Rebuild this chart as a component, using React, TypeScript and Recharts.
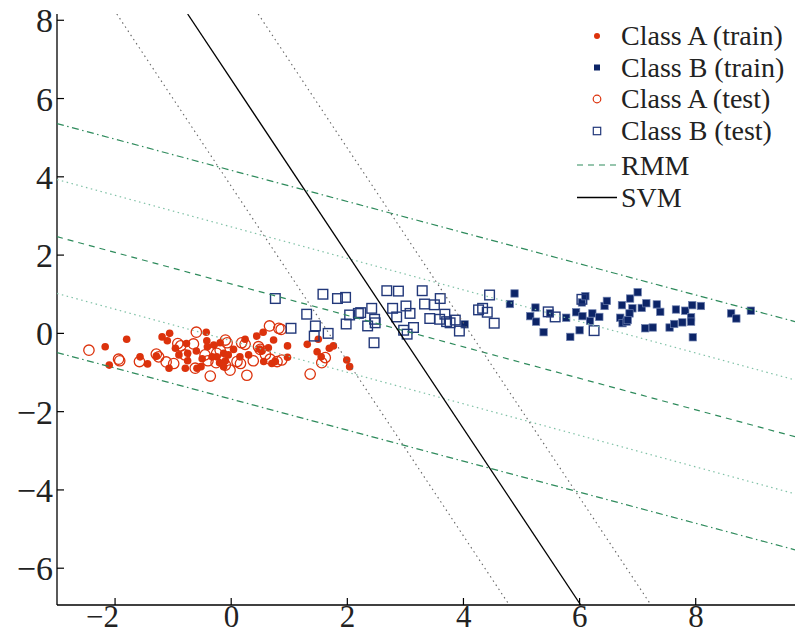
import React from 'react';
import { ScatterChart, Scatter, XAxis, YAxis, Legend } from 'recharts';

// points, [x, y]
const classATrain: [number, number][] = [
  [-2.17, -0.34], [-2.10, -0.81], [-1.80, -0.15], [-1.57, -0.60], [-1.44, -0.78],
  [-1.29, -0.58], [-1.19, -0.09], [-1.06, 0.00], [-1.10, -0.19], [-1.07, -0.89],
  [-0.96, -0.38], [-0.90, -0.55], [-0.77, -0.26], [-0.75, -0.51], [-0.75, -0.70],
  [-0.79, -0.89], [-0.60, -0.45], [-0.50, -0.65], [-0.43, 0.03], [-0.42, -0.19],
  [-0.59, -0.89], [-0.52, -0.85], [-0.41, -0.34], [-0.33, -0.60], [-0.30, -0.30],
  [-0.25, -0.60], [-0.20, -0.75], [-0.19, -0.24], [-0.13, -0.51], [-0.10, -0.70],
  [-0.13, -0.85], [-0.05, -0.55], [0.04, -0.41], [0.15, -0.60], [0.24, -0.15],
  [0.30, -0.55], [0.44, -0.07], [0.49, -0.40], [0.53, -0.45], [0.56, -0.72],
  [0.70, -0.77], [0.76, -0.72], [0.64, -0.37], [0.73, -0.17], [0.55, 0.03],
  [0.97, -0.32], [0.97, -0.61], [1.31, -0.28], [1.48, -0.47], [1.50, -0.15],
  [1.55, -0.60], [1.69, -0.38], [1.76, -0.32], [1.99, -0.68], [2.04, -0.85],
];

const classBTrain: [number, number][] = [
  [4.02, 0.23], [4.80, 0.75], [4.88, 1.02], [5.24, 0.66], [5.15, 0.44],
  [5.25, 0.30], [5.38, 0.03], [5.49, 0.51], [5.77, 0.40], [5.84, -0.09],
  [5.94, 0.54], [6.00, 0.08], [6.04, 0.79], [6.10, 0.95], [6.05, 0.44],
  [6.18, 0.32], [6.22, 0.51], [6.34, 0.42], [6.43, 0.70], [6.47, 0.83],
  [6.70, 0.40], [6.74, 0.26], [6.81, 0.30], [6.73, 0.72], [6.87, 0.89],
  [7.00, 1.05], [6.91, 0.64], [7.07, 0.65], [7.15, 0.77], [6.86, 0.51],
  [6.83, 0.34], [7.13, 0.13], [7.26, 0.15], [7.33, 0.74], [7.39, 0.55],
  [7.55, 0.15], [7.63, 0.24], [7.77, 0.28], [7.66, 0.61], [7.82, 0.58],
  [7.92, 0.41], [7.92, 0.30], [7.94, 0.72], [8.09, 0.70], [7.95, -0.10],
  [8.61, 0.51], [8.70, 0.38], [8.95, 0.58],
];

const classATest: [number, number][] = [
  [-2.45, -0.43], [-1.94, -0.66], [-1.92, -0.70], [-1.58, -0.72], [-1.29, -0.53],
  [-1.25, -0.60], [-1.12, -0.73], [-0.99, -0.77], [-0.92, -0.26], [-0.87, -0.32],
  [-0.80, -0.55], [-0.65, -0.27], [-0.60, 0.03], [-0.62, -0.89], [-0.45, -0.55],
  [-0.40, -0.70], [-0.36, -1.09], [-0.25, -0.51], [-0.19, -0.43], [-0.10, -0.17],
  [-0.07, -0.24], [-0.26, -0.75], [-0.10, -0.81], [-0.02, -0.94], [0.10, -0.72],
  [0.16, -0.77], [0.18, -0.24], [0.24, -0.28], [0.27, -1.07], [0.38, -0.70],
  [0.47, -0.34], [0.50, -0.41], [0.59, -0.54], [0.67, -0.66], [0.79, -0.72],
  [0.87, -0.68], [0.66, 0.19], [0.82, 0.13], [0.86, 0.10], [1.36, -1.04],
  [1.56, -0.75], [1.62, -0.62],
];

const classBTest: [number, number][] = [
  [0.76, 0.89], [1.58, 1.00], [1.83, 0.89], [1.97, 0.92], [1.30, 0.49],
  [1.45, 0.19], [1.43, -0.07], [1.67, 0.00], [1.03, 0.13], [1.98, 0.24],
  [2.04, 0.47], [2.19, 0.51], [2.23, 0.53], [2.42, 0.64], [2.35, 0.19],
  [2.47, 0.36], [2.48, 0.27], [2.46, -0.24], [2.68, 1.09], [2.88, 1.08],
  [2.78, 0.64], [2.85, 0.42], [3.01, 0.70], [3.08, 0.51], [2.97, 0.08],
  [3.03, -0.02], [3.14, 0.15], [3.29, 1.09], [3.33, 0.75], [3.50, 0.73],
  [3.60, 0.89], [3.42, 0.38], [3.59, 0.36], [3.68, 0.49], [3.71, 0.30],
  [3.77, 0.27], [3.86, 0.34], [3.93, 0.06], [4.26, 0.60], [4.33, 0.64],
  [4.41, 0.54], [4.45, 0.98], [4.53, 0.26], [5.46, 0.55], [5.58, 0.42],
  [6.04, 0.87], [6.25, 0.07],
];

// separating lines, endpoints read at the plot edges
const svmX = [-0.75, 6.02];
const svmLowX = [-1.97, 4.79];
const svmHighX = [0.465, 7.23];
const svmY = [8.16, -6.94];

const rmmX = [-3, 9.71];
const rmmCenterY = [2.47, -2.64];
const rmmUpperY = [5.36, 0.3];
const rmmLowerY = [-0.49, -5.53];
const rmmUpperDotY = [3.93, -1.19];
const rmmLowerDotY = [1.02, -4.1];

const xTicks = [-2, 0, 2, 4, 6, 8];
const yTicks = [-6, -4, -2, 0, 2, 4, 6, 8];

const RED = '#dc320c';
const NAVY = '#0c2467';
const GREEN = '#2e8b5c';
const FONT = '"Liberation Serif", "Times New Roman", serif';

const toPoints = (pts: [number, number][]) => pts.map(([x, y]) => ({ x, y }));
const segment = (xs: number[], ys: number[]) => xs.map((x, i) => ({ x, y: ys[i] }));

const fmt = (v: number) => (v < 0 ? '\u2212' + Math.abs(v) : String(v));

const YTick = ({ x, y, payload }: any) => (
  <g>
    <line x1={x} x2={x + 7} y1={y} y2={y} stroke="#000" strokeWidth={1.2} />
    <text x={x - 4} y={y + 12} textAnchor="end" fontFamily={FONT} fontSize={34} fill="#222">
      {fmt(payload.value)}
    </text>
  </g>
);

const XTick = ({ x, y, payload }: any) => (
  <g>
    <line x1={x} x2={x} y1={y} y2={y - 7} stroke="#000" strokeWidth={1.2} />
    <text
      x={payload.value < 0 ? x + 4 : x + 8}
      y={y + 22}
      textAnchor="end"
      fontFamily={FONT}
      fontSize={31}
      fill="#222"
    >
      {fmt(payload.value)}
    </text>
  </g>
);

const TopTick = ({ x, y }: any) => (
  <line x1={x} x2={x} y1={y} y2={y + 7} stroke="#000" strokeWidth={1.2} />
);

const dotA = (p: any) => <circle cx={p.cx} cy={p.cy} r={3.8} fill={RED} />;
const ringA = (p: any) => (
  <circle cx={p.cx} cy={p.cy} r={5.2} fill="none" stroke={RED} strokeWidth={1.3} />
);
const squareB = (p: any) => (
  <rect x={p.cx - 3.7} y={p.cy - 3.7} width={7.4} height={7.4} fill={NAVY} stroke="#6d7fae" strokeWidth={0.7} />
);
const boxB = (p: any) => (
  <rect x={p.cx - 4.8} y={p.cy - 4.8} width={9.6} height={9.6} fill="none" stroke="#22387a" strokeWidth={1.4} />
);
const noMark = () => <g />;

const legendRows = [
  { label: 'Class A (train)', y: 36 },
  { label: 'Class B (train)', y: 67.5 },
  { label: 'Class A (test)', y: 99 },
  { label: 'Class B (test)', y: 131 },
  { label: 'RMM', y: 165.5 },
  { label: 'SVM', y: 197.5 },
];

const LegendBox = () => (
  <svg width={225} height={215} style={{ display: 'block' }}>
    <circle cx={27} cy={legendRows[0].y} r={3} fill={RED} />
    <rect x={24} y={legendRows[1].y - 3} width={6} height={6} fill={NAVY} />
    <circle cx={27} cy={legendRows[2].y} r={3.8} fill="none" stroke={RED} strokeWidth={1.2} />
    <rect x={23.3} y={legendRows[3].y - 3.7} width={7.4} height={7.4} fill="none" stroke="#22387a" strokeWidth={1.2} />
    <line x1={7} x2={47} y1={165} y2={165} stroke={GREEN} strokeWidth={1.2} strokeDasharray="6 5" />
    <line x1={7} x2={47} y1={197.5} y2={197.5} stroke="#000" strokeWidth={1.3} />
    {legendRows.map((r) => (
      <text key={r.label} x={51} y={r.y + 9} fontFamily={FONT} fontSize={28} fill="#222">
        {r.label}
      </text>
    ))}
  </svg>
);

export default function App() {
  return (
    <div style={{ position: 'fixed', left: 0, top: 0, width: 795, height: 634, overflow: 'hidden', background: '#fff' }}>
      <ScatterChart width={795} height={634} margin={{ top: 14, right: 0, bottom: 0, left: 0 }}>
        <XAxis
          dataKey="x"
          type="number"
          domain={[-3, 9.71]}
          allowDataOverflow
          ticks={xTicks}
          height={29}
          tickSize={0}
          tickMargin={0}
          tick={XTick}
          axisLine={{ stroke: '#000', strokeWidth: 1.3 }}
        />
        <XAxis
          xAxisId="top"
          orientation="top"
          dataKey="x"
          type="number"
          domain={[-3, 9.71]}
          allowDataOverflow
          ticks={xTicks}
          height={0}
          tickSize={0}
          tickMargin={0}
          tick={TopTick}
          axisLine={{ stroke: '#000', strokeWidth: 1.3 }}
        />
        <YAxis
          dataKey="y"
          type="number"
          domain={[-6.94, 8.16]}
          allowDataOverflow
          ticks={yTicks}
          width={57}
          tickSize={0}
          tickMargin={0}
          tick={YTick}
          axisLine={{ stroke: '#000', strokeWidth: 1.3 }}
        />
        <Legend
          layout="vertical"
          align="center"
          verticalAlign="middle"
          content={() => <LegendBox />}
          wrapperStyle={{ position: 'absolute', left: 570, top: 0, width: 225, height: 215 }}
        />

        <Scatter data={toPoints(classATrain)} shape={dotA} isAnimationActive={false} />
        <Scatter data={toPoints(classBTrain)} shape={squareB} isAnimationActive={false} />
        <Scatter data={toPoints(classATest)} shape={ringA} isAnimationActive={false} />
        <Scatter data={toPoints(classBTest)} shape={boxB} isAnimationActive={false} />

        <Scatter data={segment(rmmX, rmmUpperY)} shape={noMark} line={{ stroke: GREEN, strokeWidth: 1.2, strokeDasharray: '7 3.5 1.5 3.5' }} isAnimationActive={false} />
        <Scatter data={segment(rmmX, rmmUpperDotY)} shape={noMark} line={{ stroke: '#7fc1a6', strokeWidth: 1.2, strokeDasharray: '1.5 3.5' }} isAnimationActive={false} />
        <Scatter data={segment(rmmX, rmmCenterY)} shape={noMark} line={{ stroke: GREEN, strokeWidth: 1.2, strokeDasharray: '6 5' }} isAnimationActive={false} />
        <Scatter data={segment(rmmX, rmmLowerDotY)} shape={noMark} line={{ stroke: '#7fc1a6', strokeWidth: 1.2, strokeDasharray: '1.5 3.5' }} isAnimationActive={false} />
        <Scatter data={segment(rmmX, rmmLowerY)} shape={noMark} line={{ stroke: GREEN, strokeWidth: 1.2, strokeDasharray: '7 3.5 1.5 3.5' }} isAnimationActive={false} />

        <Scatter data={segment(svmLowX, svmY)} shape={noMark} line={{ stroke: '#666', strokeWidth: 1.1, strokeDasharray: '1.5 3.5' }} isAnimationActive={false} />
        <Scatter data={segment(svmHighX, svmY)} shape={noMark} line={{ stroke: '#666', strokeWidth: 1.1, strokeDasharray: '1.5 3.5' }} isAnimationActive={false} />
        <Scatter data={segment(svmX, svmY)} shape={noMark} line={{ stroke: '#000', strokeWidth: 1.3 }} isAnimationActive={false} />
      </ScatterChart>
    </div>
  );
}
